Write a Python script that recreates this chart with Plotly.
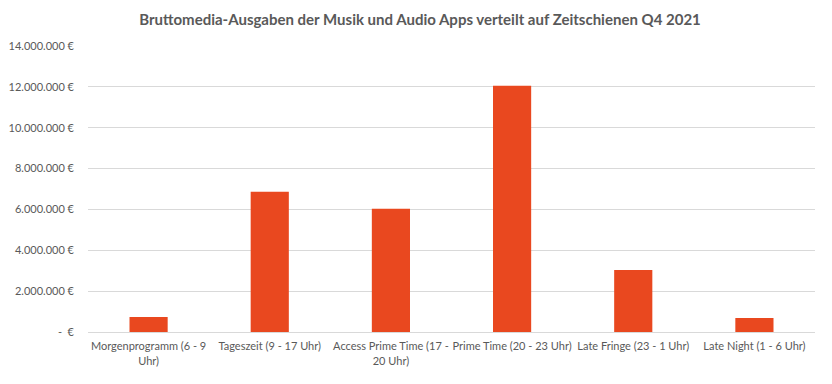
import plotly.graph_objects as go

categories = ["Morgenprogramm (6 - 9<br>Uhr)", "Tageszeit (9 - 17 Uhr)", "Access Prime Time (17 -<br>20 Uhr)",
              "Prime Time (20 - 23 Uhr)", "Late Fringe (23 - 1 Uhr)", "Late Night (1 - 6 Uhr)"]
values = [740000, 6870000, 6030000, 12050000, 3040000, 690000]
tick_vals = [0, 2000000, 4000000, 6000000, 8000000, 10000000, 12000000, 14000000]
tick_text = ["-  €", "2.000.000 €", "4.000.000 €", "6.000.000 €", "8.000.000 €",
             "10.000.000 €", "12.000.000 €", "14.000.000 €"]

fig = go.Figure(go.Bar(x=categories, y=values, marker_color="#E9481F", marker_line_width=0))

fig.update_layout(
    width=824, height=376,
    margin=dict(l=80, r=17, t=38, b=52, autoexpand=False),
    paper_bgcolor="white", plot_bgcolor="white",
    bargap=0.685,
    font=dict(family="Lato, Open Sans, sans-serif", size=11, color="#595959"),
    title=dict(text="<b>Bruttomedia-Ausgaben der Musik und Audio Apps verteilt auf Zeitschienen Q4 2021</b>",
               x=0.5, xanchor="center", y=0.968, yanchor="middle",
               font=dict(size=15, color="#595959")),
    showlegend=False,
)
fig.update_yaxes(range=[0, 14000000], tickvals=tick_vals, ticktext=tick_text,
                 gridcolor="#D9D9D9", gridwidth=1, zeroline=False, showline=False,
                 ticks="", ticklabelstandoff=13, automargin=False)
fig.update_xaxes(showline=True, linecolor="#D9D9D9", linewidth=1, ticks="",
                 tickangle=0, ticklabelstandoff=4, automargin=False)

fig.write_html("out.html")
